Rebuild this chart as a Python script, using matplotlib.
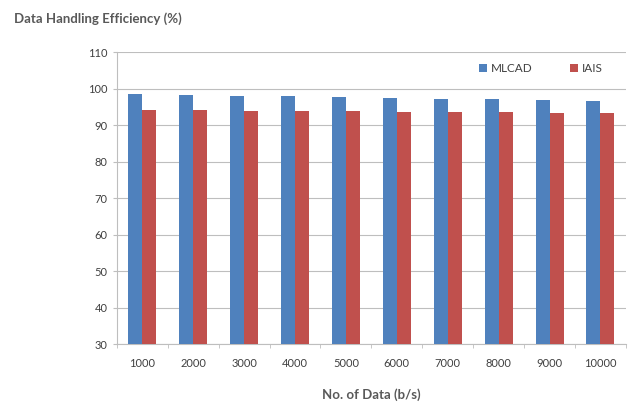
import matplotlib
matplotlib.use('Agg')
import matplotlib.pyplot as plt
import numpy as np

plt.rcParams['font.family'] = ['Lato', 'DejaVu Sans']

# data rate categories and efficiency of each scheme
categories = ['1000', '2000', '3000', '4000', '5000', '6000', '7000', '8000', '9000', '10000']
mlcad = [98.5, 98.3, 98.1, 97.9, 97.7, 97.5, 97.3, 97.1, 96.9, 96.7]
iais = [94.2, 94.1, 94.0, 93.9, 93.8, 93.7, 93.6, 93.5, 93.4, 93.3]

fig = plt.figure(figsize=(6.31, 4.11), dpi=100)
ax = fig.add_axes([0.185, 0.163, 0.807, 0.710])

x = np.arange(len(categories))
w = 0.275
ax.bar(x - w / 2, mlcad, width=w, color='#4F81BD', label='MLCAD', zorder=3)
ax.bar(x + w / 2, iais, width=w, color='#C0504D', label='IAIS', zorder=3)

ax.set_ylim(30, 110)
ax.set_yticks(range(30, 111, 10))
ax.set_xlim(-0.5, len(categories) - 0.5)
ax.set_xticks(x)
ax.set_xticklabels(categories)
ax.set_xticks(np.arange(-0.5, len(categories)), minor=True)

ax.grid(axis='y', color='#BEBEBE', linewidth=0.8, zorder=0)
for s in ['top', 'right']:
    ax.spines[s].set_visible(False)
for s in ['left', 'bottom']:
    ax.spines[s].set_color('#BEBEBE')
ax.tick_params(axis='x', which='major', length=0, pad=10, labelsize=8, colors='#404040')
ax.tick_params(axis='x', which='minor', length=3, color='#BEBEBE')
ax.tick_params(axis='y', length=3, color='#BEBEBE', labelsize=8, colors='#404040')

ax.set_xlabel('No. of Data (b/s)', fontsize=9.5, fontweight='bold', color='#595959', labelpad=14)
fig.text(0.022, 0.945, 'Data Handling Efficiency (%)', fontsize=9.5, fontweight='bold', color='#595959')

ax.legend(loc='upper right', bbox_to_anchor=(0.975, 1.0), ncol=2, frameon=False,
          fontsize=8.5, handlelength=0.7, handleheight=0.7, columnspacing=3.2,
          handletextpad=0.3, labelcolor='#404040')

fig.savefig('out.png', dpi=100)
